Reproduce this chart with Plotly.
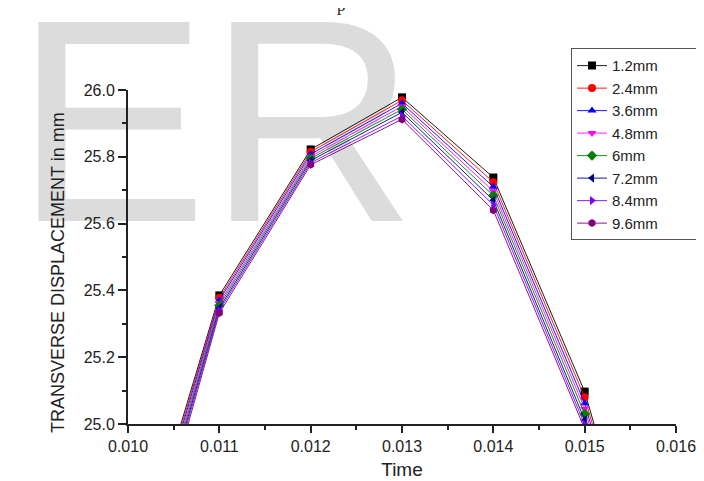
import plotly.graph_objects as go

# ---- data ----
time = [0.010, 0.011, 0.012, 0.013, 0.014, 0.015, 0.016]
series_names = ["1.2mm", "2.4mm", "3.6mm", "4.8mm", "6mm", "7.2mm", "8.4mm", "9.6mm"]
y_1_2mm = [24.47, 25.385, 25.822, 25.978, 25.738, 25.097, 24.15]
y_2_4mm = [24.455, 25.377, 25.815, 25.969, 25.724, 25.080, 24.13]
y_3_6mm = [24.44, 25.370, 25.808, 25.960, 25.710, 25.062, 24.11]
y_4_8mm = [24.425, 25.362, 25.801, 25.951, 25.697, 25.046, 24.09]
y_6mm = [24.41, 25.355, 25.795, 25.942, 25.684, 25.030, 24.07]
y_7_2mm = [24.395, 25.347, 25.789, 25.933, 25.670, 25.012, 24.05]
y_8_4mm = [24.38, 25.340, 25.782, 25.922, 25.656, 24.998, 24.03]
y_9_6mm = [24.36, 25.332, 25.776, 25.912, 25.640, 24.985, 24.01]
all_y = [y_1_2mm, y_2_4mm, y_3_6mm, y_4_8mm, y_6mm, y_7_2mm, y_8_4mm, y_9_6mm]

x_ticks = [0.010, 0.011, 0.012, 0.013, 0.014, 0.015, 0.016]
x_tick_labels = ["0.010", "0.011", "0.012", "0.013", "0.014", "0.015", "0.016"]
y_ticks = [25.0, 25.2, 25.4, 25.6, 25.8, 26.0]
y_tick_labels = ["25.0", "25.2", "25.4", "25.6", "25.8", "26.0"]

colors = ["#000000", "#FF0000", "#0000FF", "#FF00FF", "#008000", "#000080", "#7F00FF", "#800080"]
symbols = ["square", "circle", "triangle-up", "triangle-down", "diamond",
           "triangle-left", "triangle-right", "hexagon"]

FONT = "Liberation Sans, Arial, sans-serif"
PAD = "\u00a0" * 8  # widen the legend box like the reference

fig = go.Figure()
for name, ys, c, s in zip(series_names, all_y, colors, symbols):
    fig.add_trace(go.Scatter(
        x=time, y=ys, name=name + PAD, mode="lines+markers",
        line=dict(color=c, width=0.9),
        marker=dict(symbol=s, size=8, color=c),
    ))

L, R, T, B = 120, 36, 82, 54
W, H = 704, 481
pw, ph = W - L - R, H - T - B

def px2paper_x(px):
    return (px - L) / pw

def px2paper_y(py):
    return (H - B - py) / ph

fig.update_layout(
    width=W, height=H,
    margin=dict(l=L, r=R, t=T, b=B, pad=0),
    paper_bgcolor="white", plot_bgcolor="rgba(0,0,0,0)",
    font=dict(family=FONT, size=16, color="#222"),
    showlegend=True,
    legend=dict(
        x=px2paper_x(563), y=px2paper_y(39), xanchor="left", yanchor="top",
        bgcolor="white", bordercolor="#555", borderwidth=1,
        font=dict(family=FONT, size=15, color="#222"),
        tracegroupgap=0,
    ),
    xaxis=dict(
        range=[0.010, 0.016], tickvals=x_ticks, ticktext=x_tick_labels,
        showline=True, linecolor="#222", linewidth=2, mirror=False,
        ticks="outside", ticklen=7, tickwidth=2, tickcolor="#222",
        showgrid=False, zeroline=False,
        tickfont=dict(family=FONT, size=16, color="#222"),
        minor=dict(dtick=0.0005, tick0=0.010, ticks="outside", ticklen=4,
                   tickwidth=2, tickcolor="#222", showgrid=False),
        title=dict(text="Time", font=dict(family=FONT, size=19, color="#222"), standoff=8),
    ),
    yaxis=dict(
        range=[25.0, 26.0], tickvals=y_ticks, ticktext=y_tick_labels,
        showline=True, linecolor="#222", linewidth=2, mirror=False,
        ticks="outside", ticklen=8, tickwidth=2, tickcolor="#222",
        showgrid=False, zeroline=False,
        tickfont=dict(family=FONT, size=16, color="#222"),
        minor=dict(dtick=0.1, tick0=25.0, ticks="outside", ticklen=4,
                   tickwidth=2, tickcolor="#222", showgrid=False),
    ),
)

# Watermark "ER" drawn below everything
fig.add_shape(
    type="rect", xref="paper", yref="paper",
    x0=px2paper_x(19), x1=px2paper_x(396), y0=px2paper_y(189), y1=px2paper_y(-18),
    line=dict(width=0), fillcolor="rgba(0,0,0,0)", layer="below",
    label=dict(text="ER", font=dict(family=FONT, size=289, color="#dcdcdc"),
               textposition="middle center"),
)

# Y axis title
fig.add_annotation(
    text="TRANSVERSE DISPLACEMENT in mm", textangle=-90,
    xref="paper", yref="paper", x=px2paper_x(50), y=px2paper_y(271),
    xanchor="center", yanchor="middle", showarrow=False,
    font=dict(family=FONT, size=18, color="#222"),
)

# cut-off caption fragment at the very top
fig.add_annotation(
    text="p", xref="paper", yref="paper", x=px2paper_x(333), y=px2paper_y(-5),
    xanchor="center", yanchor="middle", showarrow=False,
    font=dict(family="Liberation Serif, serif", size=17, color="#222"),
)

fig.write_html("out.html")
